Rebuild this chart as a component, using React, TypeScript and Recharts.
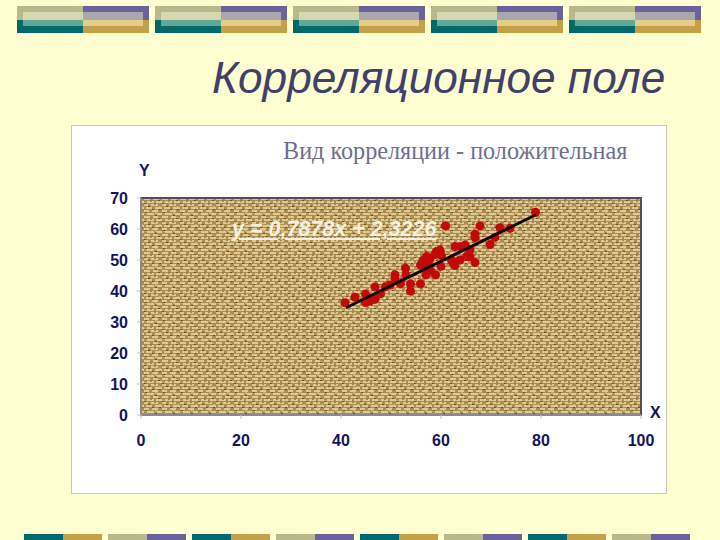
import { ScatterChart, Scatter, XAxis, YAxis, ZAxis, ReferenceArea } from 'recharts';

const xValues = [40.8, 42.8, 44.9, 44.9, 45.8, 46.8, 46.8, 47.9, 48.9, 49.8, 50.8, 50.8, 51.9, 52.9, 53, 53.9, 53.9, 55.9, 55.9, 57, 57.9, 58.9, 56.5, 57.1, 57.8, 56.8, 57.5, 59.1, 59.8, 58.8, 60.1, 60, 62.1, 62.5, 62.8, 63.8, 65.1, 65.8, 66.8, 62.8, 63.8, 64.8, 65.8, 66.8, 66.8, 67.8, 60.9, 69.8, 70.8, 71.8, 73.8, 78.9];
const yValues = [36.2, 38, 39, 36.3, 36.8, 37.3, 41.3, 39.1, 41.4, 41.9, 45.2, 44.1, 42.3, 47.3, 45.2, 42.3, 40, 42.3, 48.4, 45.2, 46.5, 45.2, 50, 51.1, 50.5, 48.9, 49.5, 52.7, 53.2, 51.8, 51.4, 48, 50, 48.9, 48.2, 50, 51.1, 51.1, 49.2, 54.3, 54.3, 54.8, 53.2, 58.3, 57.2, 61, 61, 55, 57.3, 60.4, 60.2, 65.4];
const trendX = [41, 79];
const trendY = [34.6, 64.6];
const xTicks = [0, 20, 40, 60, 80, 100];
const yTicks = [0, 10, 20, 30, 40, 50, 60, 70];

const points = xValues.map((x, i) => ({ x, y: yValues[i] }));
const trend = trendX.map((x, i) => ({ x, y: trendY[i] }));

const tickStyle = { fill: '#14145a', fontSize: 16, fontWeight: 700, fontFamily: 'Liberation Sans' };

function box(left: number, top: number, width: number, height: number, background: string) {
  return <div style={{ position: 'absolute', left, top, width, height, background }} />;
}

// slide decoration along the top edge
function TopBlock({ left }: { left: number }) {
  return (
    <>
      {box(left, 6, 66, 14, '#b8b88c')}
      {box(left, 20, 66, 13, '#006a6a')}
      {box(left + 66, 6, 66, 14, '#6a629f')}
      {box(left + 66, 20, 66, 13, '#c4a048')}
      {box(left + 6, 12, 60, 8, '#d8d8b0')}
      {box(left + 6, 20, 60, 6, '#62a898')}
      {box(left + 66, 12, 60, 8, '#aaa8ae')}
      {box(left + 66, 20, 60, 6, '#e4cd88')}
    </>
  );
}

function BottomBlock({ left, index }: { left: number; index: number }) {
  const even = index % 2 === 0;
  return (
    <>
      {box(left, 534, 39, 6, even ? '#006a6a' : '#b8b88c')}
      {box(left + 39, 534, 39, 6, even ? '#c4a048' : '#6a629f')}
    </>
  );
}

const label = (text: string, left: number, top: number) => (
  <div style={{ position: 'absolute', left, top, color: '#14145a', font: '700 16px "Liberation Sans"' }}>{text}</div>
);

export default function App() {
  return (
    <div style={{ position: 'absolute', left: 0, top: 0, width: 720, height: 540, background: '#ffffd2', overflow: 'hidden' }}>
      {[17, 155, 293, 431, 569].map((left) => <TopBlock key={left} left={left} />)}
      {[24, 108, 192, 276, 360, 444, 528, 612].map((left, i) => <BottomBlock key={left} left={left} index={i} />)}
      <div style={{ position: 'absolute', left: 212, top: 53, color: '#40406c', font: 'italic 44.2px "Liberation Sans"', whiteSpace: 'nowrap' }}>
        Корреляционное поле
      </div>
      <div style={{ position: 'absolute', left: 71, top: 125, width: 594, height: 367, background: '#fff', border: '1px solid #c8c8b4' }} />
      <div style={{ position: 'absolute', left: 283, top: 137, color: '#6f6f90', font: '24.2px "Liberation Serif"', whiteSpace: 'nowrap' }}>
        Вид корреляции - положительная
      </div>
      <div style={{ position: 'absolute', left: 0, top: 0 }}>
        <ScatterChart width={720} height={540} margin={{ top: 198, right: 79, bottom: 95, left: 101 }}>
          <defs>
            <pattern id="burlap" width="18" height="18" patternUnits="userSpaceOnUse">
              <rect width="18" height="18" fill="#ab8c52" />
              <path d="M0 1h6M9 1h5M3 4h7M12 4h6M0 7h4M7 7h7M2 10h6M11 10h7M0 13h5M8 13h6M3 16h7M13 16h5" stroke="#efdfa8" strokeWidth="1.4" />
              <path d="M7 2v2M15 1v3M1 4v3M11 5v3M5 8v3M16 8v2M9 11v2M2 14v2M12 14v2" stroke="#d6bf80" strokeWidth="1.4" />
              <path d="M6 3h2M14 2.500h2M0 5.500h2M10 6h2M4 8.500h2M15 11.500h2M8 11.500h2M1 14.500h2M11 17.500h2" stroke="#6f5226" strokeWidth="1.1" />
            </pattern>
          </defs>
          <ReferenceArea x1={0} x2={100} y1={0} y2={70} fill="url(#burlap)" fillOpacity={1} stroke="#554c60" strokeWidth={2} />
          <XAxis type="number" dataKey="x" domain={[0, 100]} ticks={xTicks} height={30} tickSize={4} tickMargin={16} stroke="#c4c4c4" tick={tickStyle} interval={0} />
          <YAxis type="number" dataKey="y" domain={[0, 70]} ticks={yTicks} width={40} tickSize={4} tickMargin={9} stroke="#c4c4c4" tick={tickStyle} interval={0} />
          <ZAxis range={[16, 16]} />
          <Scatter data={points} fill="#c20a0a" isAnimationActive={false} />
          <Scatter data={trend} line={{ stroke: '#120808', strokeWidth: 3 }} shape={() => null} isAnimationActive={false} />
        </ScatterChart>
      </div>
      <div style={{ position: 'absolute', left: 232, top: 217, color: '#f4f0e0', font: 'italic 700 21.5px "Liberation Sans"', whiteSpace: 'nowrap', textDecoration: 'underline' }}>
        y = 0,7878x + 2,3226
      </div>
      {label('Y', 139, 162)}
      {label('X', 650, 404)}
    </div>
  );
}
